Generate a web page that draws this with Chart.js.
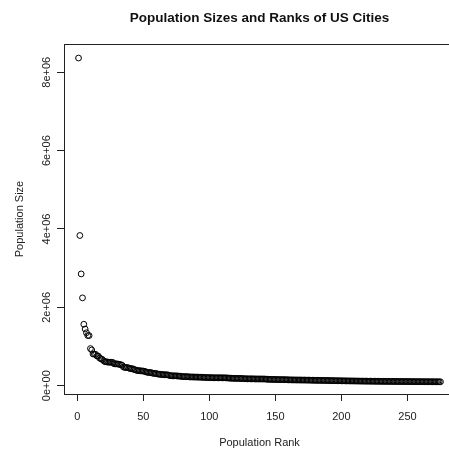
<!DOCTYPE html>
<html>
<head>
<meta charset="utf-8">
<script src="https://cdn.jsdelivr.net/npm/chart.js@4"></script>
<style>
  html, body { margin: 0; padding: 0; background: #fff; overflow: hidden; }
  canvas { display: block; }
</style>
</head>
<body>
<canvas id="chartCities" width="460" height="454"></canvas>
<script>
// Population of US cities, ordered by rank (1 = largest)
const popSizes = [
  8363710, 3833995, 2853114, 2242193, 1567924, 1447395, 1351305, 1279910, 1279329, 948279,
  912062, 808976, 807815, 798382, 757688, 754885, 703073, 687456, 669651, 636919,
  613190, 609023, 604477, 598707, 598541, 596462, 591833, 558383, 557706, 557224,
  551789, 541811, 537958, 521999, 476050, 467157, 463794, 463789, 451572, 438646,
  433748, 433746, 413201, 404155, 392552, 385635, 382605, 380307, 375571, 374417,
  366046, 354361, 340882, 339555, 334425, 333336, 319057, 315837, 311853, 310037,
  296842, 293201, 289927, 286462, 282114, 279590, 279243, 278154, 270919, 259841,
  253693, 251624, 251591, 251522, 250642, 247040, 245314, 242503, 235371, 233333,
  231916, 231305, 230519, 228798, 223689, 223284, 222574, 221659, 220483, 220111,
  218577, 217975, 217016, 215045, 213512, 212217, 209969, 207934, 207157, 206886,
  205314, 203268, 203097, 202124, 202079, 202002, 201993, 201927, 201840, 200999,
  200538, 199803, 199569, 195844, 193627, 191022, 189515, 189021, 187046, 186301,
  186122, 186106, 184802, 183606, 181698, 179899, 176971, 176645, 175523, 175023,
  175011, 174925, 174308, 173861, 171853, 171847, 171603, 171557, 171231, 170880,
  170855, 170526, 166700, 164500, 163200, 161800, 160600, 159800, 158900, 158000,
  157900, 156200, 155100, 154500, 154300, 153800, 153700, 152900, 151200, 149800,
  148600, 147900, 147300, 146500, 146100, 145800, 145400, 145200, 144800, 144300,
  143800, 143400, 142900, 142300, 141800, 141600, 140300, 139500, 138600, 137500,
  137200, 136700, 136400, 136300, 135200, 135100, 134600, 133800, 132900, 132400,
  131000, 130200, 129800, 128900, 128000, 127100, 126800, 126400, 125600, 124900,
  124200, 123700, 122900, 122400, 121800, 121700, 121500, 121000, 120300, 119800,
  119400, 118900, 118300, 117800, 117300, 116900, 116500, 116200, 115800, 115300,
  114800, 114500, 114100, 113700, 113300, 112900, 112600, 112200, 111900, 111500,
  111200, 110900, 110500, 110200, 109900, 109600, 109300, 109000, 108700, 108400,
  108100, 107800, 107500, 107200, 106900, 106600, 106300, 106000, 105700, 105400,
  105100, 104800, 104500, 104200, 103900, 103600, 103300, 103000, 102800, 102600,
  102400, 102200, 102000, 101800, 101600, 101400, 101200, 101000, 100800, 100600,
  100400, 100200, 100000, 99800, 99600
];

const xTicks = [0, 50, 100, 150, 200, 250];
const yTicks = [0, 2000000, 4000000, 6000000, 8000000];
const yTickLabels = ['0e+00', '2e+06', '4e+06', '6e+06', '8e+06'];

const INK = '#222';
const FONT = 'Liberation Sans, Arial, sans-serif';

// box around the plot + rotated y tick labels (R style)
const rStyle = {
  id: 'rStyle',
  afterDraw(chart) {
    const { ctx, chartArea: a, scales } = chart;
    ctx.save();
    ctx.strokeStyle = INK;
    ctx.lineWidth = 1;
    ctx.strokeRect(Math.round(a.left) + 0.5, Math.round(a.top) + 0.5,
                   Math.round(a.right - a.left), Math.round(a.bottom - a.top));
    ctx.fillStyle = INK;
    ctx.font = '11px ' + FONT;
    ctx.textAlign = 'center';
    ctx.textBaseline = 'middle';
    yTicks.forEach((v, i) => {
      const y = scales.y.getPixelForValue(v);
      ctx.save();
      ctx.translate(a.left - 17, y);
      ctx.rotate(-Math.PI / 2);
      ctx.fillText(yTickLabels[i], 0, 0);
      ctx.restore();
    });
    ctx.restore();
  }
};

new Chart(document.getElementById('chartCities'), {
  type: 'scatter',
  data: {
    datasets: [{
      data: popSizes.map((v, i) => ({ x: i + 1, y: v })),
      pointStyle: 'circle',
      pointRadius: 2.9,
      pointBorderWidth: 1,
      pointBorderColor: '#000',
      pointBackgroundColor: 'rgba(0,0,0,0)'
    }]
  },
  options: {
    responsive: false, animation: false,
    layout: { padding: { right: 3 } },
    plugins: {
      legend: { display: false },
      tooltip: { enabled: false },
      title: {
        display: true, fullSize: false,
        text: 'Population Sizes and Ranks of US Cities',
        color: '#111',
        font: { family: FONT, size: 13.5, weight: 'bold' },
        padding: { top: 10, bottom: 17.8 }
      }
    },
    scales: {
      x: {
        type: 'linear', min: -10, max: 286,
        afterBuildTicks: s => { s.ticks = xTicks.map(v => ({ value: v })); },
        afterFit: s => { s.height = 60; },
        border: { display: false },
        grid: { display: true, drawOnChartArea: false, drawTicks: true, tickLength: 7, color: INK },
        ticks: { color: INK, padding: 9, maxRotation: 0, font: { family: FONT, size: 11 } },
        title: { display: true, text: 'Population Rank', color: INK,
                 font: { family: FONT, size: 11 }, padding: { top: 0, bottom: 4.5 } }
      },
      y: {
        type: 'linear', min: -212000, max: 8722000,
        afterBuildTicks: s => { s.ticks = yTicks.map(v => ({ value: v })); },
        afterFit: s => { s.width = 64; },
        border: { display: false },
        grid: { display: true, drawOnChartArea: false, drawTicks: true, tickLength: 7, color: INK },
        ticks: { display: false },
        title: { display: true, text: 'Population Size', color: INK,
                 font: { family: FONT, size: 11 }, padding: { top: 13.5, bottom: 0 } }
      }
    }
  },
  plugins: [rStyle]
});
</script>
</body>
</html>
